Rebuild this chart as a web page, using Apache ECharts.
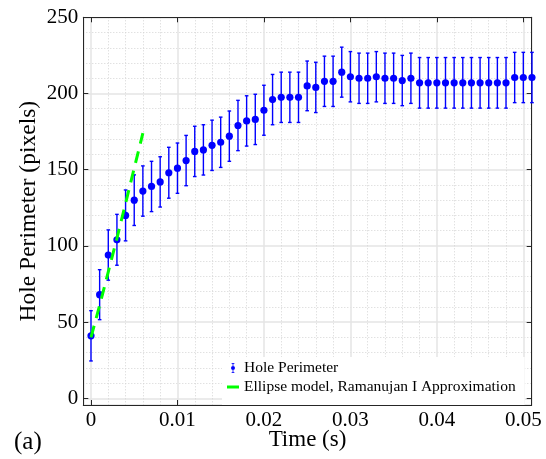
<!DOCTYPE html>
<html>
<head>
<meta charset="utf-8">
<script src="https://cdn.jsdelivr.net/npm/echarts@6/dist/echarts.min.js"></script>
<style>
html,body{margin:0;padding:0;background:#fff;}
#chart{width:546px;height:459px;}
</style>
</head>
<body>
<div id="chart"></div>
<script>
// ---- data ----
const timeS = [0,0.001,0.002,0.003,0.004,0.005,0.006,0.007,0.008,0.009,
  0.010,0.011,0.012,0.013,0.014,0.015,0.016,0.017,0.018,0.019,
  0.020,0.021,0.022,0.023,0.024,0.025,0.026,0.027,0.028,0.029,
  0.030,0.031,0.032,0.033,0.034,0.035,0.036,0.037,0.038,0.039,
  0.040,0.041,0.042,0.043,0.044,0.045,0.046,0.047,0.048,0.049,
  0.050,0.051];
const perimeter = [41,68,94,104,120,130,136,139,142,148,
  151,156,162,163,166,168,172,179,182,183,
  189,196,197.5,197.5,197.5,205,204,208,208,214,
  211,210,210,211,210,210,208.5,210,207,207,
  207,207,207,207,207,207,207,207,207,210.5,
  210.5,210.5];
const perimeterErr = [16.5,16.4,16.5,16.7,16.7,16.6,16.5,16.5,16.5,16.7,
  16.5,16.5,16.5,16.5,16.5,16.5,16.5,16.5,16.5,16.5,
  16.4,16.5,16.5,16.5,16.5,16.3,16.5,16.5,16.5,16.4,
  16.5,16.5,16.5,16.5,16.5,16.5,16.5,16.5,16.6,16.6,
  16.6,16.6,16.6,16.6,16.6,16.6,16.6,16.6,16.6,16.5,
  16.5,16.5];
const modelTime = [0,0.001,0.002,0.003,0.004,0.005,0.006];
const modelPerimeter = [40,61,83,105,128,151,174];

const xMin = -0.00089, xMax = 0.05097;
const yMin = -4.4, yMax = 250;

const serif = 'Liberation Serif, Times New Roman, serif';
const frameColor = '#262626';

const chart = echarts.init(document.getElementById('chart'), null, {renderer:'canvas'});

function xFmt(v){
  const k = Math.round(v*100);
  if (Math.abs(v*100 - k) > 1e-6) return '';
  return k === 0 ? '0' : (k/100).toString();
}
function yFmt(v){
  const k = Math.round(v/50);
  if (Math.abs(v/50 - k) > 1e-6) return '';
  return String(k*50);
}

const splitLine = {show:true, lineStyle:{color:'#e4e4e4', width:1.5}};
const minorSplitLine = {show:true, lineStyle:{color:'#d4d4d4', width:1, type:[1,2]}};
const axisLine = {show:true, onZero:false, lineStyle:{color:frameColor, width:1}};
const axisTick = {show:true, inside:true, length:5, lineStyle:{color:frameColor, width:1}};

const errIcon = 'path://M0,0L0.01,0L0,0.01Z M4.6,0H7.4V0.8H6.4V9.2H7.4V10H4.6V9.2H5.6V0.8H4.6Z M6,3A2,2 0 1 1 6,7A2,2 0 1 1 6,3Z M12,10L11.99,10L12,9.99Z';
const lineIcon = 'path://M0,0L0.01,0L0,0.01Z M0,3.5H12V6.5H0Z M12,10L11.99,10L12,9.99Z';

const option = {
  animation:false,
  backgroundColor:'#fff',
  title:{text:'(a)', left:9, top:425, textStyle:{fontFamily:serif, fontWeight:'normal', fontSize:25, color:'#000'}},
  grid:{left:83.3, right:14.3, top:17.3, bottom:54, containLabel:false, outerBoundsMode:'none'},
  legend:{
    orient:'vertical', left:222, top:357,
    padding:[3,9,10,5],
    backgroundColor:'#fff', borderWidth:0,
    itemWidth:12, itemHeight:10, itemGap:3,
    textStyle:{fontFamily:serif, fontSize:15.5, color:'#000', lineHeight:15},
    data:[
      {name:'Hole Perimeter', icon:errIcon, itemStyle:{color:'#0000ff', borderWidth:0}},
      {name:'Ellipse model, Ramanujan I Approximation', icon:lineIcon, itemStyle:{color:'#00ff00', borderWidth:0}}
    ],
    selectedMode:false, z:10
  },
  xAxis:[
    {type:'value', position:'bottom', min:xMin, max:xMax, splitNumber:5,
      axisLine, axisTick,
      axisLabel:{formatter:xFmt, fontFamily:serif, fontSize:21, color:'#000', margin:5, showMinLabel:false, showMaxLabel:false},
      splitLine, minorTick:{show:false, splitNumber:5}, minorSplitLine,
      name:'Time (s)', nameLocation:'middle', nameGap:23, nameMoveOverlap:false,
      nameTextStyle:{fontFamily:serif, fontSize:23, color:'#000'}},
    {type:'value', position:'top', min:xMin, max:xMax, splitNumber:5,
      axisLine, axisTick, axisLabel:{show:false}, splitLine:{show:false}}
  ],
  yAxis:[
    {type:'value', position:'left', min:yMin, max:yMax, splitNumber:5,
      axisLine, axisTick,
      axisLabel:{formatter:yFmt, fontFamily:serif, fontSize:21, color:'#000', margin:5, showMinLabel:false},
      splitLine, minorTick:{show:false, splitNumber:5}, minorSplitLine,
      name:'Hole Perimeter (pixels)', nameLocation:'middle', nameGap:42.5, nameMoveOverlap:false,
      nameTextStyle:{fontFamily:serif, fontSize:23.5, color:'#000'}},
    {type:'value', position:'right', min:yMin, max:yMax, splitNumber:5,
      axisLine, axisTick, axisLabel:{show:false}, splitLine:{show:false}}
  ],
  series:[
    {
      name:'Hole Perimeter', type:'custom', xAxisIndex:0, yAxisIndex:0,
      itemStyle:{color:'#0000ff'},
      data: timeS.map((t,i)=>[t, perimeter[i], perimeterErr[i]]),
      encode:{x:0, y:1},
      renderItem:function(params, api){
        const x = api.value(0), y = api.value(1), e = api.value(2);
        const p = api.coord([x, y]);
        const hi = api.coord([x, y + e]);
        const lo = api.coord([x, y - e]);
        const cw = 1.8;
        const st = {stroke:'#0000ff', lineWidth:1.4};
        return {type:'group', children:[
          {type:'line', shape:{x1:p[0], y1:hi[1], x2:p[0], y2:lo[1]}, style:st},
          {type:'line', shape:{x1:p[0]-cw, y1:hi[1], x2:p[0]+cw, y2:hi[1]}, style:st},
          {type:'line', shape:{x1:p[0]-cw, y1:lo[1], x2:p[0]+cw, y2:lo[1]}, style:st},
          {type:'circle', shape:{cx:p[0], cy:p[1], r:3.6}, style:{fill:'#0000ff'}}
        ]};
      },
      z:3
    },
    {
      name:'Ellipse model, Ramanujan I Approximation', type:'line', xAxisIndex:0, yAxisIndex:0,
      data: modelTime.map((t,i)=>[t, modelPerimeter[i]]),
      symbol:'none', color:'#00ff00',
      lineStyle:{color:'#00ff00', width:3, type:[12,8], cap:'butt'},
      z:4
    }
  ]
};
chart.setOption(option);
</script>
</body>
</html>
